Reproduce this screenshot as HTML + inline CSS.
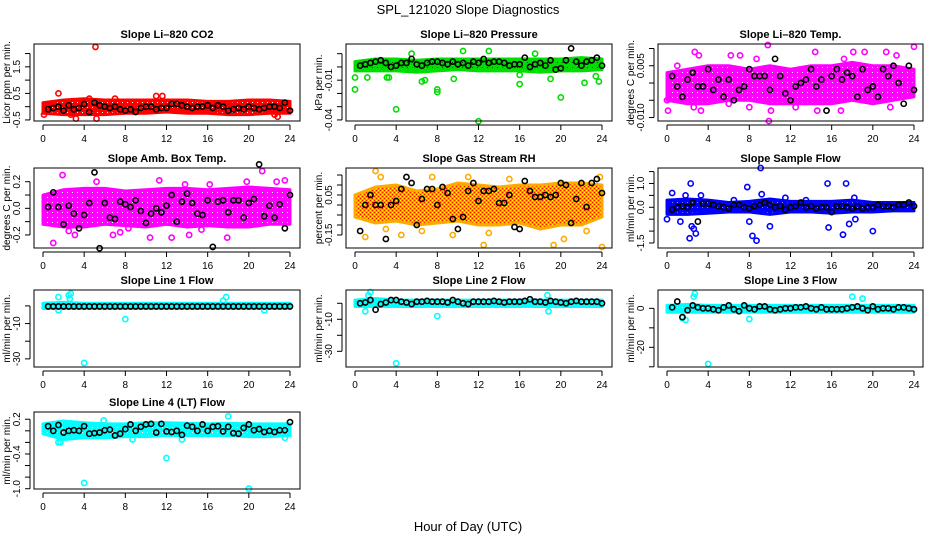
<!DOCTYPE html>
<html><head><meta charset="utf-8">
<style>
html,body{margin:0;padding:0;background:#fff;}
svg{display:block;font-family:"Liberation Sans",Arial,sans-serif;}
</style></head>
<body>
<svg id="chart" width="936" height="540" viewBox="0 0 936 540" xmlns="http://www.w3.org/2000/svg">
<defs>
<pattern id="pat-red" width="5" height="5" patternUnits="userSpaceOnUse"><rect width="5" height="5" fill="#f00"/><rect x="2" y="2" width="1" height="1" fill="#fff"/></pattern>
<pattern id="pat-green" width="5" height="5" patternUnits="userSpaceOnUse"><rect width="5" height="5" fill="#0d0"/><rect x="2" y="2" width="1" height="1" fill="#050"/></pattern>
<pattern id="pat-magenta" width="5" height="5" patternUnits="userSpaceOnUse"><rect width="5" height="5" fill="#f0f"/><rect x="2" y="2" width="1" height="1" fill="#fff"/></pattern>
<pattern id="pat-orange" width="4" height="4" patternUnits="userSpaceOnUse"><rect width="4" height="4" fill="#f90"/><rect x="0" y="0" width="1" height="1" fill="#ff0"/><rect x="2" y="2" width="1" height="1" fill="#ff0"/><rect x="2" y="0" width="1" height="1" fill="#f00"/><rect x="0" y="2" width="1" height="1" fill="#f00"/></pattern>
<pattern id="pat-blue" width="5" height="5" patternUnits="userSpaceOnUse"><rect width="5" height="5" fill="#00f"/><rect x="2" y="2" width="1" height="1" fill="#88f"/></pattern>
<pattern id="pat-cyan" width="5" height="5" patternUnits="userSpaceOnUse"><rect width="5" height="5" fill="#0ff"/><rect x="2" y="2" width="1" height="1" fill="#fff"/></pattern>
</defs>
<text x="468" y="14" text-anchor="middle" font-size="13">SPL_121020  Slope Diagnostics</text>
<text x="468" y="531" text-anchor="middle" font-size="13">Hour of Day (UTC)</text>
<g id="panels"></g>
</svg>
<script>
// ---- shared data ----
const bandHours = [0,2,4,6,8,10,12,14,16,18,20,22,24];
const blackHours = [0.5,1,1.5,2,2.5,3,3.5,4,4.5,5,5.5,6,6.5,7,7.5,8,8.5,9,9.5,10,10.5,11,11.5,12,12.5,13,13.5,14,14.5,15,15.5,16,16.5,17,17.5,18,18.5,19,19.5,20,20.5,21,21.5,22,22.5,23,23.5,24];
const xTicks = [0,4,8,12,16,20,24];

// CO2
const co2Lo = [-0.25,-0.3,-0.3,-0.3,-0.25,-0.25,-0.2,-0.25,-0.25,-0.3,-0.3,-0.25,-0.25];
const co2Hi = [0.15,0.25,0.3,0.25,0.25,0.25,0.25,0.25,0.2,0.2,0.25,0.25,0.2];
const co2Black = [-0.1,-0.05,0,-0.15,0.05,-0.1,-0.05,0.1,-0.2,0.15,0.05,0,-0.05,0,-0.1,-0.15,-0.1,-0.2,-0.05,0,0,-0.1,-0.05,-0.05,0.1,0.1,0.05,0,-0.05,0,0,0.05,-0.05,0.05,0,-0.15,-0.1,-0.05,-0.1,0,-0.05,-0.1,-0.05,0,0,-0.05,0.15,-0.15];
const co2SX = [5.1,1.5,3.2,5.2,11,11.6,22.8,22.5,2.7,0.1,4.5,7];
const co2SY = [2.25,0.5,-0.45,-0.45,0.4,0.4,-0.38,-0.3,-0.3,-0.3,0.3,0.3];
// Pressure
const presLo = [-0.003,-0.003,-0.003,-0.004,-0.003,-0.002,-0.003,-0.003,-0.003,-0.004,-0.003,-0.003,-0.002];
const presHi = [0.004,0.006,0.006,0.005,0.006,0.006,0.006,0.006,0.006,0.006,0.006,0.007,0.006];
const presBlack = [0.001,0.002,0.003,0.004,0.005,0.003,0,0.001,0.003,0.003,0.006,0.002,0.001,0.003,0.004,0.004,0.003,0.002,0.004,0.002,0.003,0.001,0.004,0.003,0.006,0.003,0.004,0.004,0.003,0.001,0.002,0.002,0.007,0,0.002,0.003,0.001,0.005,-0.002,-0.001,0.005,0.014,0.004,0.001,0.004,0.005,0.007,0.001];
const presSX = [0,0,4,12,20,16,16,8,8,6.5,6.8,3.1,3.3,1.2,9.6,19,23.7,23.4,22.3,10.5,5.5,13,17.5];
const presSY = [-0.017,-0.008,-0.032,-0.041,-0.023,-0.013,-0.006,-0.017,-0.019,-0.011,-0.01,-0.008,-0.008,-0.008,-0.009,-0.009,-0.011,-0.007,-0.012,0.012,0.01,0.012,0.01];
// Li-820 Temp
const tempLo = [-0.005,-0.006,-0.006,-0.005,-0.005,-0.006,-0.006,-0.006,-0.006,-0.005,-0.006,-0.005,-0.004];
const tempHi = [0.003,0.004,0.005,0.005,0.004,0.005,0.004,0.005,0.005,0.006,0.005,0.005,0.004];
const tempBlack = [0.002,-0.001,-0.004,0.001,0.003,-0.001,-0.001,0.004,-0.002,0.001,-0.004,0.001,-0.005,-0.002,-0.001,0.004,0.002,0.002,0.002,-0.002,0.007,0.002,-0.003,-0.005,-0.001,0,0.001,0.004,-0.001,0.001,-0.008,0.002,0.004,0.001,0.003,0.002,-0.004,0.004,-0.002,-0.001,-0.004,0.004,0.002,0.005,0,-0.006,0.005,-0.002];
const tempSX = [0,0.1,1,2.7,3.3,4.5,6.2,6,8,9.8,9.9,8.7,10.1,14.4,14.6,16.9,17.2,18.1,19.2,21.3,21.7,22.3,24,2.6,3.1,12.5,7.1];
const tempSY = [-0.005,-0.008,0.005,0.009,-0.008,-0.005,0.008,-0.006,-0.007,0.011,-0.011,0.007,-0.008,0.009,-0.008,-0.008,0.007,0.009,0.009,0.009,-0.007,0.008,0.0105,-0.007,0.008,-0.007,0.008];
// Amb box temp
const ambLo = [-0.12,-0.14,-0.14,-0.12,-0.13,-0.14,-0.12,-0.14,-0.13,-0.14,-0.14,-0.12,-0.12];
const ambHi = [0.1,0.14,0.15,0.15,0.13,0.14,0.15,0.15,0.14,0.15,0.16,0.15,0.14];
const ambBlack = [0.01,0.12,0.01,-0.12,0.02,-0.04,-0.15,-0.05,0.04,0.27,-0.3,0.04,-0.07,-0.08,0.05,0.03,0.01,0.06,-0.02,-0.11,-0.04,0,-0.03,0.02,0.1,-0.1,0.05,0.11,0.04,-0.04,-0.05,0.06,-0.29,0.05,0.06,-0.03,0.06,0.06,-0.07,0.04,0.07,0.33,-0.06,0.02,-0.07,0.03,-0.15,0.1];
const ambSX = [1,1.9,3.1,3.8,5.2,6.8,7.5,8.3,10.4,12.5,14.2,15.4,16.2,17.9,19.8,21.3,22.7,23.5,2.5,11.3,13.8];
const ambSY = [-0.26,0.25,-0.2,-0.05,0.2,-0.2,-0.18,-0.15,-0.22,-0.22,-0.2,-0.16,0.18,-0.22,0.2,0.28,0.2,0.21,-0.17,0.21,0.18];
// Gas stream RH
const rhLo = [-0.06,-0.09,-0.08,-0.1,-0.09,-0.08,-0.1,-0.1,-0.09,-0.12,-0.1,-0.1,-0.06];
const rhHi = [0.05,0.09,0.1,0.07,0.08,0.11,0.1,0.09,0.1,0.1,0.11,0.11,0.1];
const rhBlack = [-0.13,0,0.05,0,0,-0.17,0,0.02,0.08,0.14,0.11,-0.1,0.03,0.08,0.08,0,0.09,0.06,-0.07,-0.12,-0.06,0.07,0.11,0.02,0.07,0.07,0.08,0.01,0.01,0.05,-0.11,-0.12,0.12,0.07,0.04,0.04,0.05,0.04,0.05,0.11,0.1,-0.09,0.03,0.11,-0.01,0.11,0.13,0.06];
const rhSX = [2,2.5,1,3,4.5,6.5,9.5,12.5,13,15,19.3,20.3,22.5,24,23.8,11,7.5];
const rhSY = [0.17,0.14,-0.16,-0.12,-0.15,-0.13,-0.15,-0.2,-0.14,0.13,-0.2,-0.17,-0.13,-0.21,0.14,0.14,0.14];
// Sample flow
const sfLo = [-0.3,-0.3,-0.25,-0.2,-0.2,-0.3,-0.2,-0.2,-0.25,-0.2,-0.2,-0.15,-0.15];
const sfHi = [0.3,0.35,0.3,0.2,0.25,0.35,0.25,0.25,0.25,0.3,0.2,0.2,0.2];
const sfBlack = [-0.1,0,0.05,0,0.2,-0.6,0.15,0.15,0.1,0.05,0,-0.05,0.1,0.1,0,-0.05,0.05,0.1,0.2,0.1,0,0.05,-0.1,0,0.05,0.2,0,0.05,-0.05,0,0,-0.2,0.05,0.05,0,-0.05,0.05,-0.05,0,0,0.1,0.05,0.05,0,0.1,0.1,0.2,0.05];
const sfSX = [0,0.5,1.3,2.2,2.3,2.6,2.8,3.3,2.4,8,8.3,8.7,9.1,9.2,10,7.8,11.5,13.5,15.6,15.7,17.1,17.4,17.7,18.2,18.3,20,1.8,6.5];
const sfSY = [-0.5,0.6,-0.6,-1.3,1.0,-0.9,-1.1,0.5,-0.8,-0.6,-1.2,-1.4,1.65,0.55,-0.8,0.85,0.4,0.3,1.0,-0.85,-1.15,1.0,-0.7,0.4,-0.5,-1.0,0.5,0.3];
// Line 1
const l1Lo = [-1.5,-1.5,-1.5,-1.5,-1.5,-1.5,-1.5,-1.5,-1.5,-1.5,-1.5,-1.5,-1.5];
const l1Hi = [1.5,2,1.5,1.5,1.5,1.5,1.5,1.5,1.5,1.5,1.5,1.5,1.5];
const l1Black = [-0.3,-0.3,-0.3,-0.3,-0.3,-0.3,-0.3,-0.3,-0.3,-0.3,-0.3,-0.3,-0.3,-0.3,-0.3,-0.3,-0.3,-0.3,-0.3,-0.3,-0.3,-0.3,-0.3,-0.3,-0.3,-0.3,-0.3,-0.3,-0.3,-0.3,-0.3,-0.3,-0.3,-0.3,-0.3,-0.3,-0.3,-0.3,-0.3,-0.3,-0.3,-0.3,-0.3,-0.3,-0.3,-0.3,-0.3,-0.3];
const l1SX = [1.5,2.5,2.7,2.6,4,8,17.8,17.5,1.5,21.5];
const l1SY = [5,6,7,4,-32.3,-7.5,5,3,-2.5,-2.5];
// Line 2
const l2Lo = [-2,-2,-2,-2,-2,-2,-2,-2,-2,-2,-2,-2,-2];
const l2Hi = [2,3,2,2,2,2,2,2,2,2,2,2,2];
const l2Black = [0,0.5,2,-4,-0.5,0.5,2,2,1,0.5,-0.5,1,1,1.5,1,1,1,0.5,2,1,0,-0.5,1,1,1,1,1.5,1,0.5,1,1,1,1.5,2.5,1,1,0.5,1.5,1,0.5,0,1,1.5,1,1,1,1,0];
const l2SX = [1,1.5,1.3,4,8,18.7,18.8];
const l2SY = [-5,7,5,-37.5,-8,5,-5];
// Line 3
const l3Lo = [-2,-2,-2,-2,-2,-2,-2,-2,-2,-2,-2,-2,-2];
const l3Hi = [1.5,2,1.5,1.5,1.5,1.5,1.5,1.5,1.5,1.5,1.5,1.5,1.5];
const l3Black = [0.5,3.5,-4.5,-1,1.5,0.5,0,0,-0.5,-1,0.5,1.5,-0.5,-1.5,1.5,0,-0.5,1,1,-0.5,-1,-0.5,0,0,0.5,0.5,1,0,-0.5,0.5,-0.5,-0.5,-0.5,-0.5,0,0.5,1,0,-1,1,-0.5,0,0,-0.5,0.5,0.5,0,-0.5];
const l3SX = [1.5,1.8,2.6,2.7,4,8,18,19];
const l3SY = [-5,-6,6,7.5,-28.5,-5.5,6,5];
// Line 4
const l4Lo = [-0.05,-0.15,-0.12,-0.12,-0.1,-0.1,-0.08,-0.08,-0.08,-0.08,-0.1,-0.1,-0.08];
const l4Hi = [0.12,0.17,0.14,0.12,0.12,0.14,0.14,0.13,0.12,0.13,0.12,0.12,0.12];
const l4Black = [0.08,0,0.1,-0.03,0,0.01,0,0.08,-0.05,-0.04,-0.03,0.01,0.02,-0.08,-0.05,0.03,0.11,0,0.07,0.11,0.12,-0.03,0.12,-0.01,-0.02,0,-0.07,0.09,0.07,0,0.11,0,0.07,0.08,-0.01,0.07,-0.04,-0.05,0.05,0.11,0.01,0.03,-0.02,0,-0.02,0.01,0.01,0.15];
const l4SX = [4,20,12,18,1.5,1.7,5.9,8.7,13.5,23.5];
const l4SY = [-0.9,-1.0,-0.47,0.25,-0.2,-0.2,0.18,-0.15,-0.15,-0.12];

const colLeft = [34,346,658], colRight = [300,612,923], colX0 = [43,355,667], colX24 = [290,602,914];
const rowTop = [44,168,290,412], rowBot = [121,248,367,489];

const panels = [
 {id:'co2',title:'Slope Li\u2013820 CO2',ylab:'Licor ppm per min.',c:0,r:0,ymin:-0.54,ymax:2.36,ticks:[-0.5,0,0.5,1,1.5,2],labels:['-0.5','','0.5','','1.5',''],col:'#f00',pat:'red',lo:co2Lo,hi:co2Hi,bl:co2Black,sx:co2SX,sy:co2SY},
 {id:'pressure',title:'Slope Li\u2013820 Pressure',ylab:'kPa per min.',c:1,r:0,ymin:-0.0408,ymax:0.0173,ticks:[-0.04,-0.03,-0.02,-0.01,0,0.01],labels:['-0.04','','','-0.01','',''],col:'#0d0',pat:'green',lo:presLo,hi:presHi,bl:presBlack,sx:presSX,sy:presSY},
 {id:'temp',title:'Slope Li\u2013820 Temp.',ylab:'degrees C per min.',c:2,r:0,ymin:-0.011,ymax:0.0113,ticks:[-0.01,-0.005,0,0.005,0.01],labels:['-0.010','','','0.005',''],col:'#f0f',pat:'magenta',lo:tempLo,hi:tempHi,bl:tempBlack,sx:tempSX,sy:tempSY},
 {id:'amb',title:'Slope Amb. Box Temp.',ylab:'degrees C per min.',c:0,r:1,ymin:-0.298,ymax:0.303,ticks:[-0.2,-0.1,0,0.1,0.2],labels:['-0.2','','0.0','','0.2'],col:'#f0f',pat:'magenta',lo:ambLo,hi:ambHi,bl:ambBlack,sx:ambSX,sy:ambSY},
 {id:'rh',title:'Slope Gas Stream RH',ylab:'percent per min.',c:1,r:1,ymin:-0.215,ymax:0.185,ticks:[-0.15,-0.1,-0.05,0,0.05,0.1,0.15],labels:['-0.15','','','','0.05','',''],col:'#fa0',pat:'orange',lo:rhLo,hi:rhHi,bl:rhBlack,sx:rhSX,sy:rhSY},
 {id:'sample',title:'Slope Sample Flow',ylab:'ml/min per min.',c:2,r:1,ymin:-1.71,ymax:1.65,ticks:[-1.5,-1,-0.5,0,0.5,1,1.5],labels:['-1.5','','','0.0','','1.0',''],col:'#00f',pat:'blue',lo:sfLo,hi:sfHi,bl:sfBlack,sx:sfSX,sy:sfSY},
 {id:'line1',title:'Slope Line 1 Flow',ylab:'ml/min per min.',c:0,r:2,ymin:-34.6,ymax:9,ticks:[-30,-20,-10,0],labels:['-30','','-10',''],col:'#0ff',pat:'cyan',lo:l1Lo,hi:l1Hi,bl:l1Black,sx:l1SX,sy:l1SY},
 {id:'line2',title:'Slope Line 2 Flow',ylab:'ml/min per min.',c:1,r:2,ymin:-39.8,ymax:8.3,ticks:[-30,-20,-10,0],labels:['-30','','-10',''],col:'#0ff',pat:'cyan',lo:l2Lo,hi:l2Hi,bl:l2Black,sx:l2SX,sy:l2SY},
 {id:'line3',title:'Slope Line 3 Flow',ylab:'ml/min per min.',c:2,r:2,ymin:-30.1,ymax:9.4,ticks:[-30,-20,-10,0],labels:['','-20','','0'],col:'#0ff',pat:'cyan',lo:l3Lo,hi:l3Hi,bl:l3Black,sx:l3SX,sy:l3SY},
 {id:'line4',title:'Slope Line 4 (LT) Flow',ylab:'ml/min per min.',c:0,r:3,ymin:-1.005,ymax:0.325,ticks:[-1,-0.8,-0.6,-0.4,-0.2,0,0.2],labels:['-1.0','','','-0.4','','','0.2'],col:'#0ff',pat:'cyan',lo:l4Lo,hi:l4Hi,bl:l4Black,sx:l4SX,sy:l4SY}
];

const NS='http://www.w3.org/2000/svg';
const root=document.getElementById('panels');
function mk(tag,attrs,parent){const e=document.createElementNS(NS,tag);for(const k in attrs)e.setAttribute(k,attrs[k]);parent.appendChild(e);return e;}

panels.forEach(p=>{
  const L=colLeft[p.c],R=colRight[p.c],T=rowTop[p.r],B=rowBot[p.r];
  const x0=colX0[p.c],x24=colX24[p.c];
  const sx=h=>x0+(x24-x0)*h/24;
  const sy=v=>B-(B-T)*(v-p.ymin)/(p.ymax-p.ymin);
  const g=mk('g',{},root);
  
  
  const t=mk('text',{x:(L+R)/2,y:T-6,'text-anchor':'middle','font-size':'11','font-weight':'bold'},g);
  t.textContent=p.title;
  
  
  let pts=[];
  bandHours.forEach((h,i)=>pts.push(sx(h)+','+sy(p.hi[i])));
  for(let i=bandHours.length-1;i>=0;i--)pts.push(sx(bandHours[i])+','+sy(p.lo[i]));
  const band=mk('polygon',{points:pts.join(' '),fill:'url(#pat-'+p.pat+')',stroke:p.col,'stroke-width':'3','stroke-linejoin':'round'},g);
  
  
  p.sx.forEach((h,i)=>{
    const c=mk('circle',{cx:sx(h),cy:sy(p.sy[i]),r:2.6,fill:'none',stroke:p.col,'stroke-width':'1.6'},g);
    
    
  });
  blackHours.forEach((h,i)=>{
    const c=mk('circle',{cx:sx(h),cy:sy(p.bl[i]),r:2.6,fill:'none',stroke:'#000','stroke-width':'1.6'},g);
    
    
  });
  const box=mk('rect',{x:L,y:T,width:R-L,height:B-T,fill:'none',stroke:'#000','stroke-width':'1'},g);
  
  
  const ax=B+4;
  const xa=mk('g',{},g);
  
  
  mk('line',{x1:sx(0),x2:sx(24),y1:ax,y2:ax,stroke:'#000'},xa);
  xTicks.forEach(h=>{
    mk('line',{x1:sx(h),x2:sx(h),y1:ax,y2:ax+5,stroke:'#000'},xa);
    const tl=mk('text',{x:sx(h),y:ax+17,'text-anchor':'middle','font-size':'10'},xa);
    tl.textContent=String(h);
    
    
  });
  const ay=L-4;
  const ya=mk('g',{},g);
  
  
  mk('line',{x1:ay,x2:ay,y1:sy(p.ticks[0]),y2:sy(p.ticks[p.ticks.length-1]),stroke:'#000'},ya);
  p.ticks.forEach((v,i)=>{
    const yy=sy(v);
    mk('line',{x1:ay,x2:ay-5,y1:yy,y2:yy,stroke:'#000'},ya);
    if(p.labels[i]){
      const tl=mk('text',{x:0,y:0,'text-anchor':'middle','font-size':'10',transform:'translate('+(ay-10)+','+yy+') rotate(-90)'},ya);
      tl.textContent=p.labels[i];
      
      
    }
  });
  const yt=mk('text',{x:0,y:0,'text-anchor':'middle','font-size':'10',transform:'translate('+(L-24)+','+((T+B)/2)+') rotate(-90)'},g);
  yt.textContent=p.ylab;
  
  
});
</script>
</body></html>
